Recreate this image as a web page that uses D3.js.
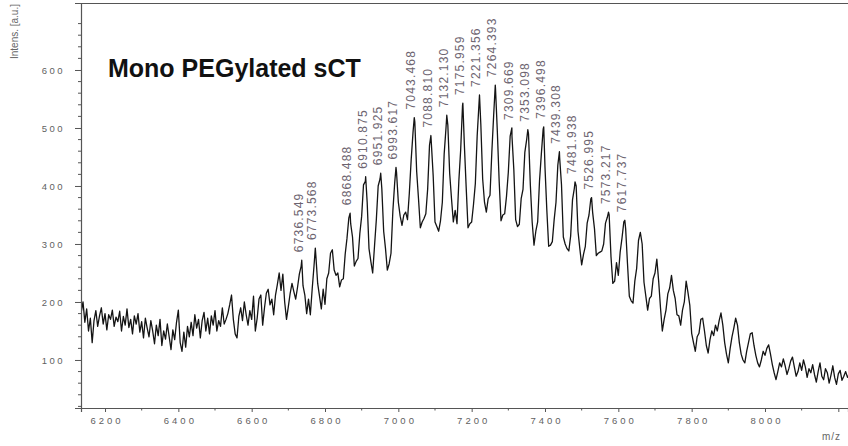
<!DOCTYPE html>
<html>
<head>
<meta charset="utf-8">
<script src="https://cdn.jsdelivr.net/npm/d3@7"></script>
<style>
  body { margin: 0; background: #fff; }
  svg { display: block; }
</style>
</head>
<body>
<svg id="chart" width="848" height="446"></svg>
<script>
// Spectrum sampled every 5 Da starting at m/z 6135 (one row = 100 Da)
const mzStart = 6135;
const mzStep = 5;
const intensity = [
  182, 200, 165, 188, 150, 172, 130, 168, 185, 158, 176, 190, 162, 180, 152, 178, 170, 186, 158, 174,
  166, 184, 150, 175, 160, 188, 156, 170, 145, 176, 162, 180, 148, 166, 138, 172, 155, 140, 168, 150,
  128, 160, 142, 170, 125, 150, 136, 162, 140, 118, 152, 135, 165, 186, 130, 115, 148, 122, 158, 140,
  165, 142, 178, 155, 170, 138, 168, 182, 150, 172, 145, 176, 160, 185, 150, 168, 158, 190, 162, 170,
  180, 195, 212, 170, 145, 138, 175, 190, 168, 200, 178, 160, 185, 170, 210, 150, 172, 205, 212, 160,
  190, 215, 222, 195, 205, 178, 212, 230, 250, 220, 248, 200, 170, 192, 215, 232, 218, 205, 225, 248,
  262, 228, 212, 180, 205, 178, 222, 262, 280, 232, 210, 188, 222, 196, 240, 250, 284, 290, 255, 246,
  250, 226, 238, 240, 282, 310, 345, 335, 312, 262, 270, 275, 318, 348, 402, 408, 372, 292, 270, 250,
  296, 342, 400, 412, 395, 322, 292, 255, 266, 284, 356, 405, 424, 372, 348, 332, 350, 355, 342, 388,
  445, 492, 510, 425, 378, 328, 338, 344, 352, 395, 470, 474, 418, 338, 330, 322, 340, 372, 455, 500,
  505, 422, 378, 338, 358, 335, 408, 462, 538, 472, 398, 328, 335, 338, 368, 404, 486, 542, 506, 412,
  372, 355, 378, 384, 458, 522, 568, 494, 408, 340, 350, 352, 382, 424, 486, 485, 428, 342, 330, 334,
  378, 394, 458, 480, 490, 402, 338, 298, 322, 338, 408, 455, 498, 432, 358, 296, 298, 304, 342, 372,
  436, 448, 402, 312, 300, 292, 288, 314, 376, 396, 400, 322, 292, 264, 282, 296, 336, 350, 378, 354,
  326, 280, 284, 286, 288, 300, 336, 346, 350, 278, 232, 236, 268, 246, 286, 310, 338, 326, 266, 210,
  202, 198, 236, 258, 306, 320, 300, 234, 210, 186, 206, 210, 240, 250, 274, 236, 190, 150, 170, 186,
  214, 224, 246, 220, 206, 178, 176, 160, 186, 200, 236, 216, 194, 146, 130, 115, 140, 146, 170, 172,
  150, 125, 112, 135, 150, 142, 160, 150, 168, 181, 160, 130, 110, 95, 120, 140, 155, 172, 160, 130,
  110, 100, 95, 115, 130, 145, 147, 125, 108, 95, 88, 100, 115, 108, 120, 126, 110, 92, 78, 66,
  80, 95, 88, 102, 90, 75, 85, 98, 105, 88, 72, 80, 95, 82, 100, 88, 70, 85, 78, 92,
  75, 62, 80, 95, 72, 66, 85, 78, 60, 74, 90, 70, 58, 76, 82, 65, 72, 80, 70, 75
];

// Annotated peaks: m/z and apex intensity
const peakMz = [
  6736.549, 6773.568, 6868.488, 6910.875, 6951.925, 6993.617, 7043.468, 7088.810,
  7132.130, 7175.959, 7221.356, 7264.393, 7309.669, 7353.098, 7396.498, 7439.308,
  7481.938, 7526.995, 7573.217, 7617.737
];
const peakIntensity = [
  272, 293, 353, 416, 422, 432, 518, 487,
  522, 543, 557, 574, 500, 497, 502, 459,
  407, 380, 355, 341
];

const xTicks = [6200, 6400, 6600, 6800, 7000, 7200, 7400, 7600, 7800, 8000, 8200];
const xTickLabels = ["6200", "6400", "6600", "6800", "7000", "7200", "7400", "7600", "7800", "8000", ""];
const yTicks = [100, 200, 300, 400, 500, 600];
const titleText = "Mono PEGylated sCT";

const svg = d3.select("#chart");
const plotLeft = 81, plotRight = 848, plotTop = 3, plotBottom = 408;

const x = d3.scaleLinear().domain([6134.5, 8226.4]).range([plotLeft, plotRight]);
const y = d3.scaleLinear().domain([17.2, 715.5]).range([plotBottom, plotTop]);

const tickColor = "#5f5f5f";
const labelFont = "'Liberation Sans', Arial, sans-serif";

// frame: top border
svg.append("line")
  .attr("x1", plotLeft).attr("x2", plotRight).attr("y1", plotTop + 0.5).attr("y2", plotTop + 0.5)
  .attr("stroke", "#555").attr("stroke-width", 1);

// x axis
const xAxis = d3.axisBottom(x)
  .tickValues(xTicks)
  .tickSize(4)
  .tickPadding(5)
  .tickFormat((d, i) => xTickLabels[i]);
const gx = svg.append("g").attr("transform", `translate(0,${plotBottom})`).call(xAxis);
gx.select(".domain").attr("stroke", "#555").attr("stroke-width", 1.2);
gx.selectAll(".tick line").attr("stroke", "#555");
gx.selectAll(".tick text")
  .attr("fill", tickColor)
  .style("font-family", labelFont)
  .style("font-size", "9.5px")
  .style("letter-spacing", "3px")
  .attr("dx", "1.5px");

// x minor ticks
const xMinor = d3.range(6300, 8226, 200);
svg.append("g").selectAll("line").data(xMinor).join("line")
  .attr("x1", d => x(d)).attr("x2", d => x(d))
  .attr("y1", plotBottom).attr("y2", plotBottom + 2.5)
  .attr("stroke", "#555");

// y axis
const yAxis = d3.axisLeft(y)
  .tickValues(yTicks)
  .tickSize(6)
  .tickPadding(10)
  .tickFormat(d3.format("d"));
const gy = svg.append("g").attr("transform", `translate(${plotLeft},0)`).call(yAxis);
gy.select(".domain").attr("stroke", "#555").attr("stroke-width", 1.2);
gy.selectAll(".tick line").attr("stroke", "#555");
gy.selectAll(".tick text")
  .attr("fill", tickColor)
  .style("font-family", labelFont)
  .style("font-size", "9.5px")
  .style("letter-spacing", "2.5px");

// y minor ticks every 20
const yMinor = d3.range(20, 716, 20).filter(v => v % 100 !== 0);
svg.append("g").selectAll("line").data(yMinor).join("line")
  .attr("x1", plotLeft - 3).attr("x2", plotLeft)
  .attr("y1", d => y(d)).attr("y2", d => y(d))
  .attr("stroke", "#555");

// axis titles
svg.append("text")
  .attr("transform", `translate(18,4) rotate(-90)`)
  .attr("text-anchor", "end")
  .attr("fill", "#666")
  .style("font-family", labelFont)
  .style("font-size", "10px")
  .text("Intens. [a.u.]");

svg.append("text")
  .attr("x", 822).attr("y", 440)
  .attr("fill", "#666")
  .style("font-family", labelFont)
  .style("font-size", "10px")
  .style("letter-spacing", "1px")
  .text("m/z");

// spectrum trace
const points = intensity.map((v, i) => [mzStart + i * mzStep, v])
  .concat(peakMz.map((m, i) => [m, peakIntensity[i]]))
  .sort((a, b) => a[0] - b[0]);

svg.append("clipPath").attr("id", "plotClip")
  .append("rect").attr("x", plotLeft + 1).attr("y", plotTop)
  .attr("width", plotRight - plotLeft).attr("height", plotBottom - plotTop);

const line = d3.line().x(d => x(d[0])).y(d => y(d[1]));
svg.append("path")
  .datum(points)
  .attr("clip-path", "url(#plotClip)")
  .attr("fill", "none")
  .attr("stroke", "#141414")
  .attr("stroke-width", 1.3)
  .attr("stroke-linejoin", "round")
  .attr("d", line);

// peak annotations
svg.append("g").selectAll("text").data(peakMz).join("text")
  .attr("transform", (d, i) => `translate(${x(d) + 1},${y(peakIntensity[i]) - 8}) rotate(-90)`)
  .attr("fill", "#6d6470")
  .style("font-family", labelFont)
  .style("font-size", "12px")
  .style("letter-spacing", "1.2px")
  .text(d => d.toFixed(3));

// title
svg.append("text")
  .attr("x", 108).attr("y", 77)
  .attr("fill", "#111")
  .style("font-family", labelFont)
  .style("font-size", "25px")
  .style("font-weight", "bold")
  .text(titleText);
</script>
</body>
</html>
